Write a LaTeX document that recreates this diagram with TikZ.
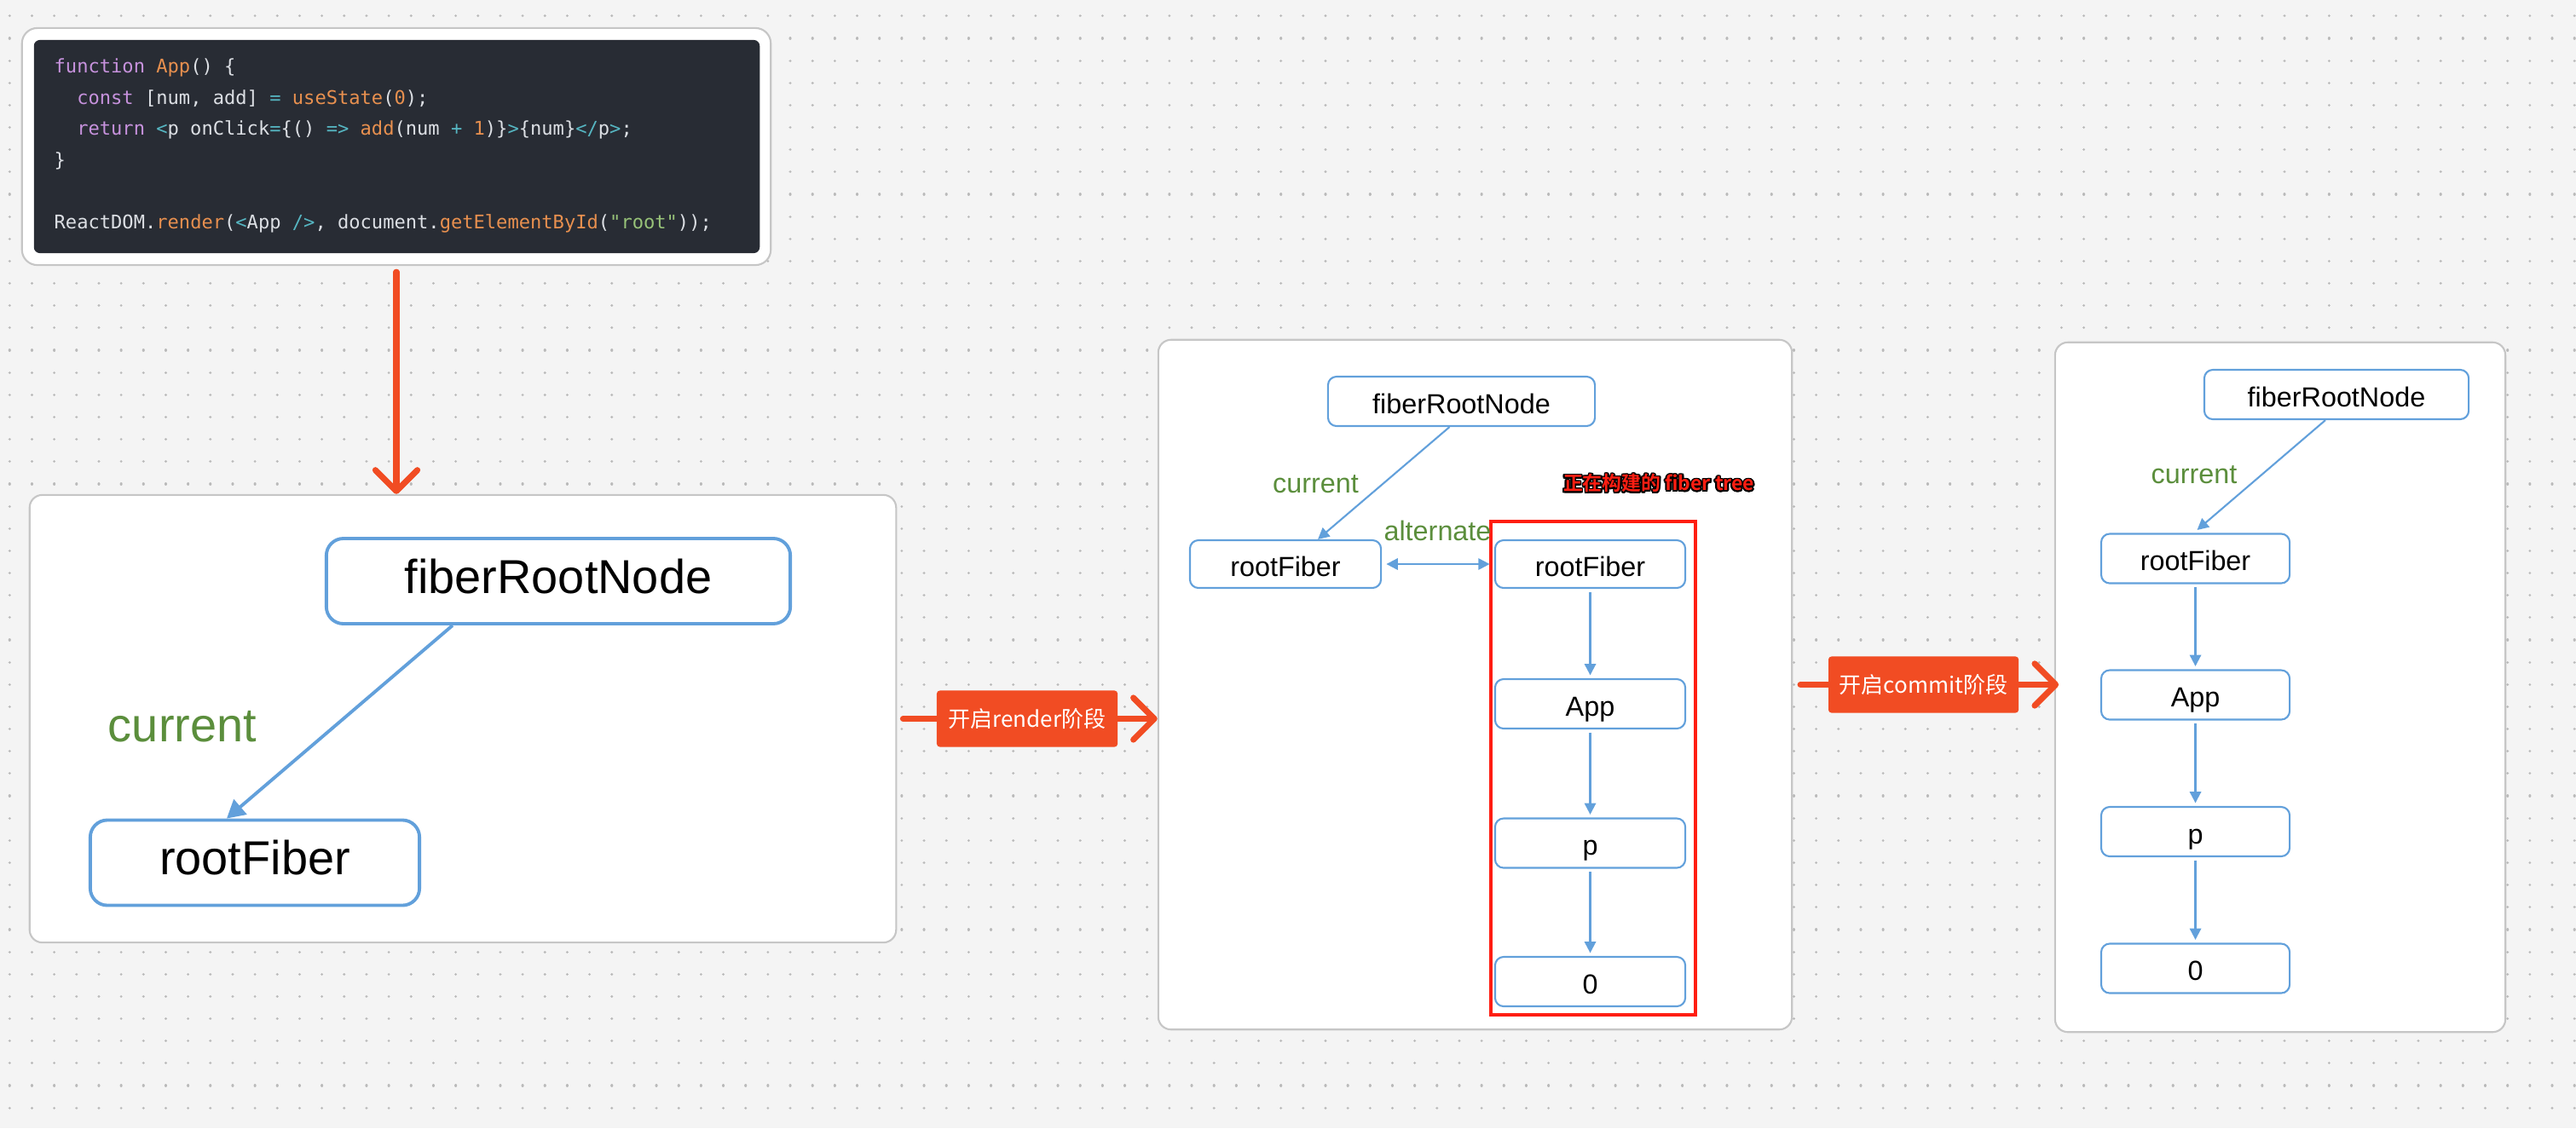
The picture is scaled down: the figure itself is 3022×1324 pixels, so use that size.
\documentclass[tikz,border=0pt]{standalone}
\usepackage{fontspec}
\setmainfont{Liberation Sans}
\setmonofont{DejaVu Sans Mono}
\newfontfamily\cjk{Noto Sans CJK SC}[BoldFont={Noto Sans CJK SC Bold}]
\usepackage{contour}
\contourlength{0.45pt}
\usetikzlibrary{arrows.meta}

\definecolor{canvas}{HTML}{F4F4F4}
\definecolor{griddot}{HTML}{BABABA}
\definecolor{cardline}{HTML}{C6C6C6}
\definecolor{codebg}{HTML}{282C34}
\definecolor{codefg}{HTML}{DCDFE4}
\definecolor{kwpurple}{HTML}{C792DD}
\definecolor{fnorange}{HTML}{E8904F}
\definecolor{opcyan}{HTML}{56B6C2}
\definecolor{strgreen}{HTML}{98C379}
\definecolor{fiberblue}{HTML}{62A0DB}
\definecolor{edgegreen}{HTML}{5B8E3C}
\definecolor{stageorange}{HTML}{F14C23}
\definecolor{treered}{HTML}{FF1E12}

\newcommand\ckw[1]{\textcolor{kwpurple}{#1}}
\newcommand\cfn[1]{\textcolor{fnorange}{#1}}
\newcommand\cop[1]{\textcolor{opcyan}{#1}}
\newcommand\cstr[1]{\textcolor{strgreen}{#1}}

\tikzset{
  griddots/.style={draw=griddot, line width=0.9pt, line cap=round, dash pattern=on 0.01pt off 7.43pt},
  panel/.style={draw=cardline, fill=white, line width=0.6pt, rounded corners=0.15cm, inner sep=0pt},
  bigfiber/.style={draw=fiberblue, fill=white, line width=1.1pt, rounded corners=0.2cm, inner sep=0pt,
    minimum width=5.44cm, minimum height=1cm, text height=0.9em, text depth=0.1em,
    font=\fontsize{15.9}{18}\selectfont},
  fiber/.style={draw=fiberblue, fill=white, line width=0.6pt, rounded corners=0.1cm, inner sep=0pt,
    minimum width=2.23cm, minimum height=0.58cm, text height=0.9em, text depth=0.1em,
    font=\fontsize{9.2}{11}\selectfont},
  curlabel/.style={text=edgegreen, inner sep=0pt},
  bigedge/.style={draw=fiberblue, line width=1.1pt, -{Triangle[length=6pt,width=6.5pt]}},
  fiberlink/.style={draw=fiberblue, line width=0.6pt, -{Triangle[length=3.8pt,width=3.8pt]}},
  stagearrow/.style={draw=stageorange, line width=2pt, line cap=round,
    -{Straight Barb[length=7pt,width=14pt,line cap=round,line join=round]}},
  stagelabel/.style={fill=stageorange, text=white, rounded corners=1pt, inner sep=0pt,
    minimum width=2.12cm, minimum height=0.66cm, font=\cjk\fontsize{7.4}{9}\selectfont},
  treelabel/.style={text=treered, inner sep=0pt, font=\cjk\bfseries\fontsize{6.5}{8}\selectfont}
}

\begin{document}
\begin{tikzpicture}[x=0.01cm, y=-0.01cm]
    % canvas with dot grid
    \fill[canvas] (0,0) rectangle (3022,1324);
    \useasboundingbox (0,0) rectangle (3022,1324);
    \foreach \r in {0,...,49}
        \draw[griddots] (11.3,{18.8+26.15*\r}) -- (3022,{18.8+26.15*\r});

    % code card
    \node[panel, rounded corners=0.18cm, minimum width=8.78cm, minimum height=2.78cm] (codecard) at (465,172) {};
    \node[fill=codebg, rounded corners=0.07cm, minimum width=8.51cm, minimum height=2.5cm] (codebg) at (465.5,172) {};
    \node[anchor=north west, align=left, inner sep=0pt, text=codefg,
          font=\ttfamily\fontsize{6.28}{10.41}\selectfont\frenchspacing] (code) at (63,68) {%
        \ckw{function} \cfn{App}() \{\\
        \phantom{xx}\ckw{const} [num, add] \cop{=} \cfn{useState}(\cfn{0});\\
        \phantom{xx}\ckw{return} \cop{<}p onClick\cop{=}\{() \cop{=>} \cfn{add}(num \cop{+} \cfn{1})\}\cop{>}\{num\}\cop{</}p\cop{>};\\
        \}\\
        \mbox{}\\
        ReactDOM.\cfn{render}(\cop{<}App \cop{/>}, document.\cfn{getElementById}(\cstr{"root"}));};

    % stage 1
    \node[panel, minimum width=10.16cm, minimum height=5.25cm] (stage1) at (543,843.5) {};
    \node[bigfiber] (frn1) at (655,682) {fiberRootNode};
    \node[bigfiber, minimum width=3.86cm] (rf1) at (299,1012.5) {rootFiber};
    \node[curlabel, font=\fontsize{15.9}{18}\selectfont] (cur1) at (214,853) {current};
    \draw[bigedge] ([xshift=-1.24cm]frn1.south) -- ([xshift=-0.33cm]rf1.north);

    % stage 2
    \node[panel, minimum width=7.43cm, minimum height=8.09cm] (stage2) at (1730.5,803.5) {};
    \node[draw=treered, line width=1.2pt, minimum width=2.4cm, minimum height=5.79cm, inner sep=0pt] (tree) at (1869,901.5) {};
    \node[treelabel] (treetitle) at (1946,568) {\contour{black}{正在构建的 fiber tree}};
    \node[fiber, minimum width=3.13cm] (frn2) at (1714.5,471) {fiberRootNode};
    \node[fiber, minimum width=2.24cm, minimum height=0.56cm] (rf2cur) at (1508,662) {rootFiber};
    \node[fiber, minimum height=0.56cm] (rf2wip) at (1865.5,662) {rootFiber};
    \node[fiber] (app2) at (1865.5,826) {App};
    \node[fiber] (p2) at (1865.5,989.5) {p};
    \node[fiber] (zero2) at (1865.5,1152) {0};
    \node[curlabel, font=\fontsize{9.2}{11}\selectfont] (cur2) at (1543.5,568) {current};
    \node[curlabel, font=\fontsize{9.2}{11}\selectfont] (alt2) at (1686.5,623) {alternate};
    \draw[fiberlink] ([xshift=-0.14cm]frn2.south) -- ([xshift=0.38cm]rf2cur.north);
    \draw[fiberlink, {Triangle[length=3.8pt,width=3.8pt]}-{Triangle[length=3.8pt,width=3.8pt]},
          shorten <=1.5pt, shorten >=1.5pt] (rf2cur.east) -- (rf2wip.west);
    \foreach \a/\b in {rf2wip/app2, app2/p2, p2/zero2}
        \draw[fiberlink, shorten <=1pt, shorten >=1pt] (\a) -- (\b);

    % stage 3
    \node[panel, minimum width=5.28cm, minimum height=8.09cm] (stage3) at (2675,806.5) {};
    \node[fiber, minimum width=3.1cm] (frn3) at (2741,463) {fiberRootNode};
    \node[fiber, minimum width=2.21cm] (rf3) at (2575.5,655.5) {rootFiber};
    \node[fiber, minimum width=2.21cm] (app3) at (2575.5,815.5) {App};
    \node[fiber, minimum width=2.21cm] (p3) at (2575.5,976) {p};
    \node[fiber, minimum width=2.21cm] (zero3) at (2575.5,1136.5) {0};
    \node[curlabel, font=\fontsize{9.2}{11}\selectfont] (cur3) at (2574,557) {current};
    \draw[fiberlink, shorten >=1.5pt] ([xshift=-0.13cm]frn3.south) -- ([xshift=-0.02cm]rf3.north);
    \foreach \a/\b in {rf3/app3, app3/p3, p3/zero3}
        \draw[fiberlink, shorten <=1pt, shorten >=1pt] (\a) -- (\b);

    % stage arrows
    \draw[stagearrow, shorten <=2pt] (codecard.south) -- (codecard.south |- stage1.north);
    \draw[stagearrow, shorten <=2pt] (stage1.east) -- node[stagelabel] (renderlbl) {开启render阶段} (stage1.east -| stage2.west);
    \draw[stagearrow, shorten <=2.5pt, shorten >=-1.5pt] (stage2.east) -- node[stagelabel, minimum width=2.23cm] (commitlbl) {开启commit阶段} (stage2.east -| stage3.west);
\end{tikzpicture}
\end{document}
